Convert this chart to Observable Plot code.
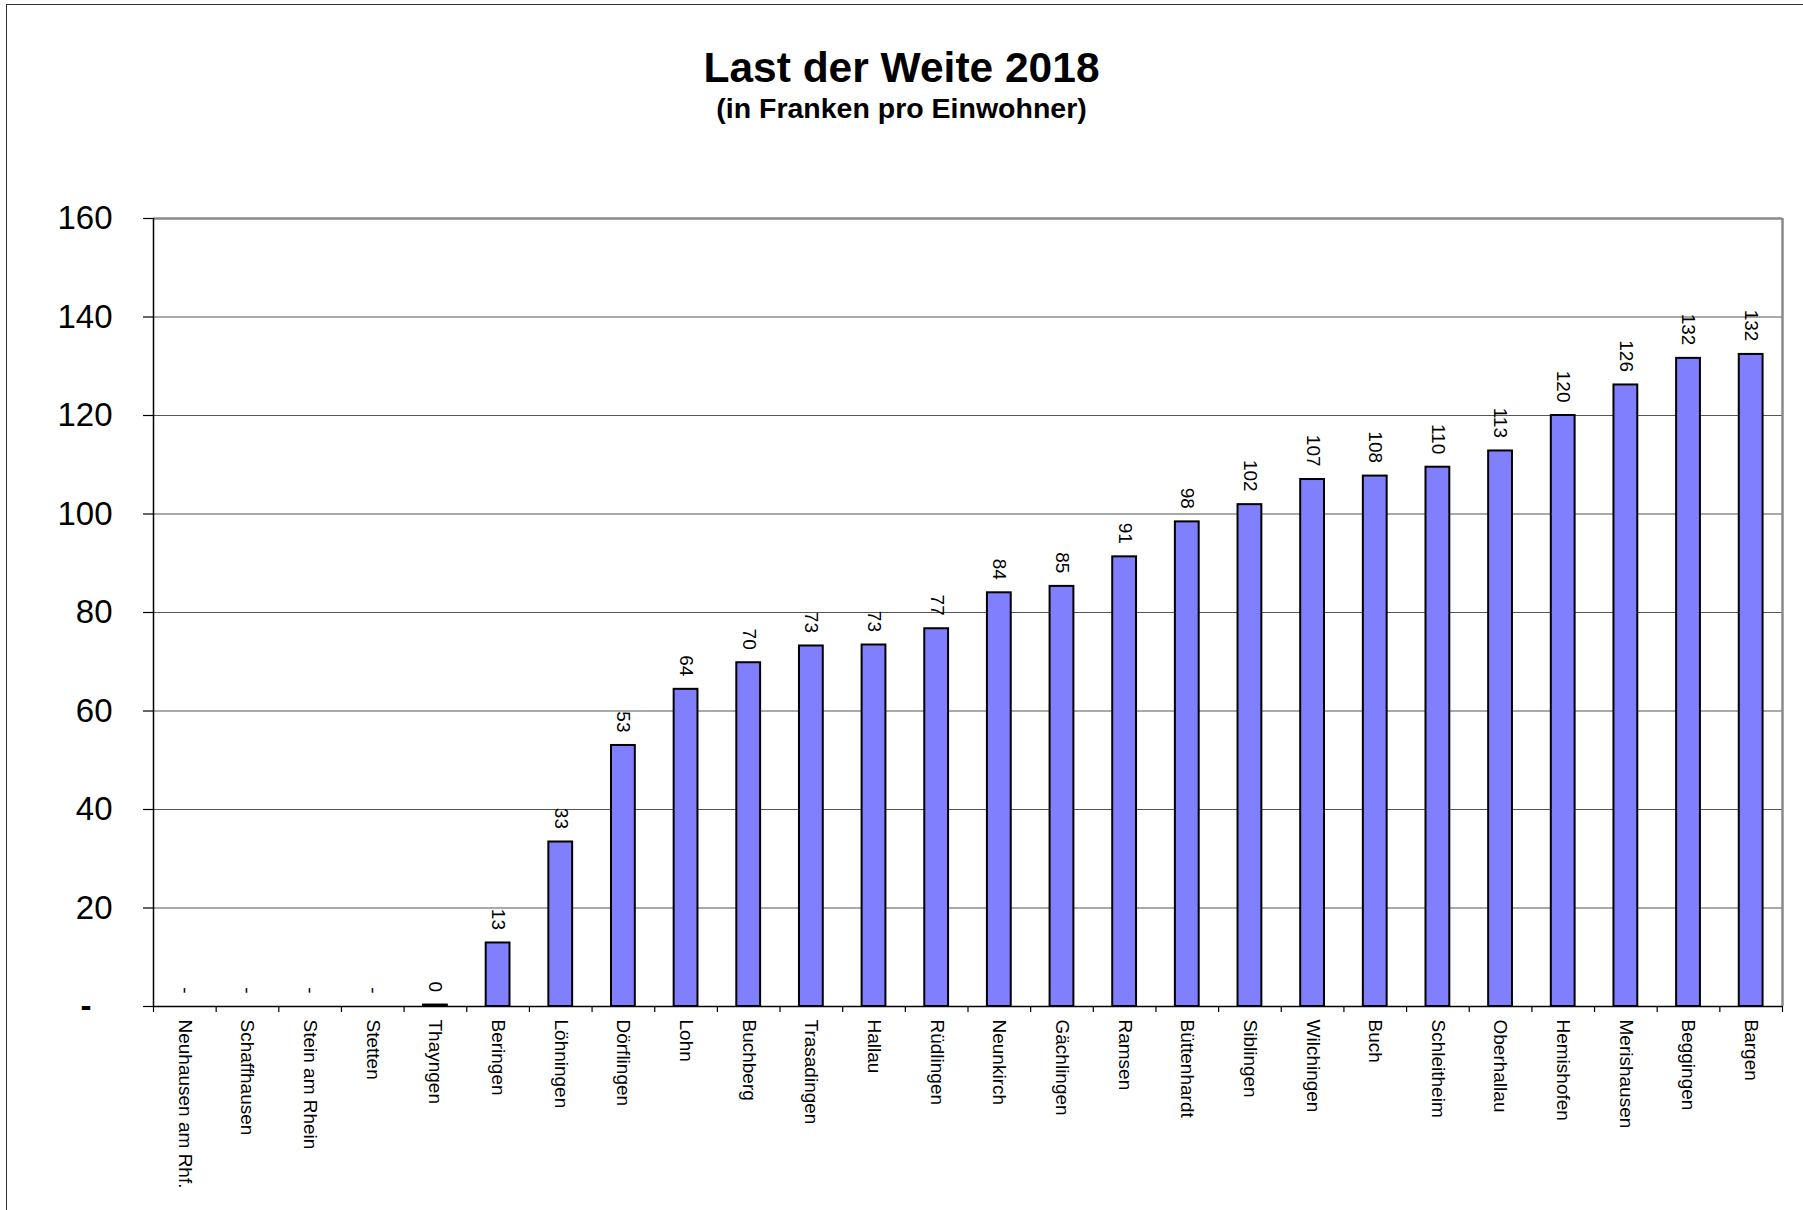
<!DOCTYPE html>
<html><head><meta charset="utf-8">
<script src="https://cdn.jsdelivr.net/npm/d3@7"></script>
<script src="https://cdn.jsdelivr.net/npm/@observablehq/plot@0.6"></script>
<style>
html,body{margin:0;padding:0;background:#fff;}
#wrap{position:relative;width:1803px;height:1210px;overflow:hidden;font-family:"Liberation Sans",Arial,sans-serif;background:#fff;}
#border{position:absolute;left:6px;top:4px;width:2000px;height:2000px;border-left:1.5px solid #333;border-top:1.5px solid #333;pointer-events:none;}
#title{position:absolute;left:0;width:1803px;text-align:center;top:47px;font-size:42.5px;line-height:42px;font-weight:bold;color:#000;}
#subtitle{position:absolute;left:0;width:1803px;text-align:center;top:94px;font-size:28.5px;line-height:28.5px;font-weight:bold;color:#000;}
#chart{position:absolute;left:0;top:140px;}
</style></head>
<body><div id="wrap"><div id="title">Last der Weite 2018</div><div id="subtitle">(in Franken pro Einwohner)</div><div id="chart"></div><div id="border"></div></div>
<script>
const gemeinden = ["Neuhausen am Rhf.", "Schaffhausen", "Stein am Rhein", "Stetten", "Thayngen", "Beringen", "Löhningen", "Dörflingen", "Lohn", "Buchberg", "Trasadingen", "Hallau", "Rüdlingen", "Neunkirch", "Gächlingen", "Ramsen", "Büttenhardt", "Siblingen", "Wilchingen", "Buch", "Schleitheim", "Oberhallau", "Hemishofen", "Merishausen", "Beggingen", "Bargen"];
const lastProEinwohner = [null, null, null, null, 0.3, 12.9, 33.4, 53.0, 64.4, 69.8, 73.2, 73.4, 76.7, 84.0, 85.3, 91.3, 98.4, 101.9, 107.0, 107.7, 109.5, 112.8, 120.0, 126.2, 131.6, 132.4];
const yTicks = [0, 20, 40, 60, 80, 100, 120, 140, 160];

const rows = gemeinden.map((name, i) => ({name, value: lastProEinwohner[i]}));

const W = 1803, H = 1070, mL = 153, mR = 21, mT = 78, mB = 204;
const step = (W - mL - mR) / gemeinden.length;
const fmt = d3.format(".0f");

const chart = Plot.plot({
  width: W, height: H,
  marginLeft: mL, marginRight: mR, marginTop: mT, marginBottom: mB,
  style: {fontFamily: "'Liberation Sans', Arial, sans-serif", background: "transparent", color: "black", overflow: "visible"},
  x: {domain: gemeinden, paddingInner: 0.62, paddingOuter: 0.31, round: false, label: null, axis: null},
  y: {domain: [0, 160], label: null, axis: null},
  marks: [
    Plot.ruleY(yTicks.filter(t => t > 0 && t < 160), {stroke: "#555", strokeWidth: 1.2}),
    Plot.ruleY([160], {stroke: "#8a8a8a", strokeWidth: 2.5}),
    Plot.ruleX([gemeinden[gemeinden.length - 1]], {x: d => d, dx: step / 2, y1: () => 0, y2: () => 160, stroke: "#8a8a8a", strokeWidth: 2.5}),
    Plot.barY(rows.filter(d => d.value != null), {x: "name", y: "value", fill: "#8080FF", stroke: "black", strokeWidth: 2}),
    Plot.ruleX([gemeinden[0]], {x: d => d, dx: -step / 2, y1: () => 0, y2: () => 160, stroke: "black", strokeWidth: 1.5}),
    Plot.ruleY([0], {stroke: "black", strokeWidth: 1.5}),
    Plot.ruleX(gemeinden, {x: d => d, dx: -step / 2, y1: () => 0, y2: () => 0, insetTop: 6, stroke: "black", strokeWidth: 1.2}),
    Plot.ruleX([gemeinden[gemeinden.length - 1]], {x: d => d, dx: step / 2, y1: () => 0, y2: () => 0, insetTop: 6, stroke: "black", strokeWidth: 1.2}),
    Plot.text(rows, {x: "name", y: d => d.value ?? 0, text: d => d.value == null ? "-" : fmt(d.value), rotate: 90, textAnchor: "end", dy: -13, fontSize: 19, fill: "black"}),
    Plot.axisY(yTicks.filter(t => t > 0), {tickSize: 10, tickPadding: 31, fontSize: 33, label: null, tickFormat: d => d, strokeWidth: 1.2}),
    Plot.axisY([0], {tickSize: 10, tickPadding: 52, fontSize: 33, fontWeight: "bold", label: null, tickFormat: () => "-", strokeWidth: 1.2}),
    Plot.axisX({tickSize: 0, tickPadding: 13, tickRotate: 90, fontSize: 19, label: null})
  ]
});
document.getElementById("chart").appendChild(chart);
</script>
</body></html>
